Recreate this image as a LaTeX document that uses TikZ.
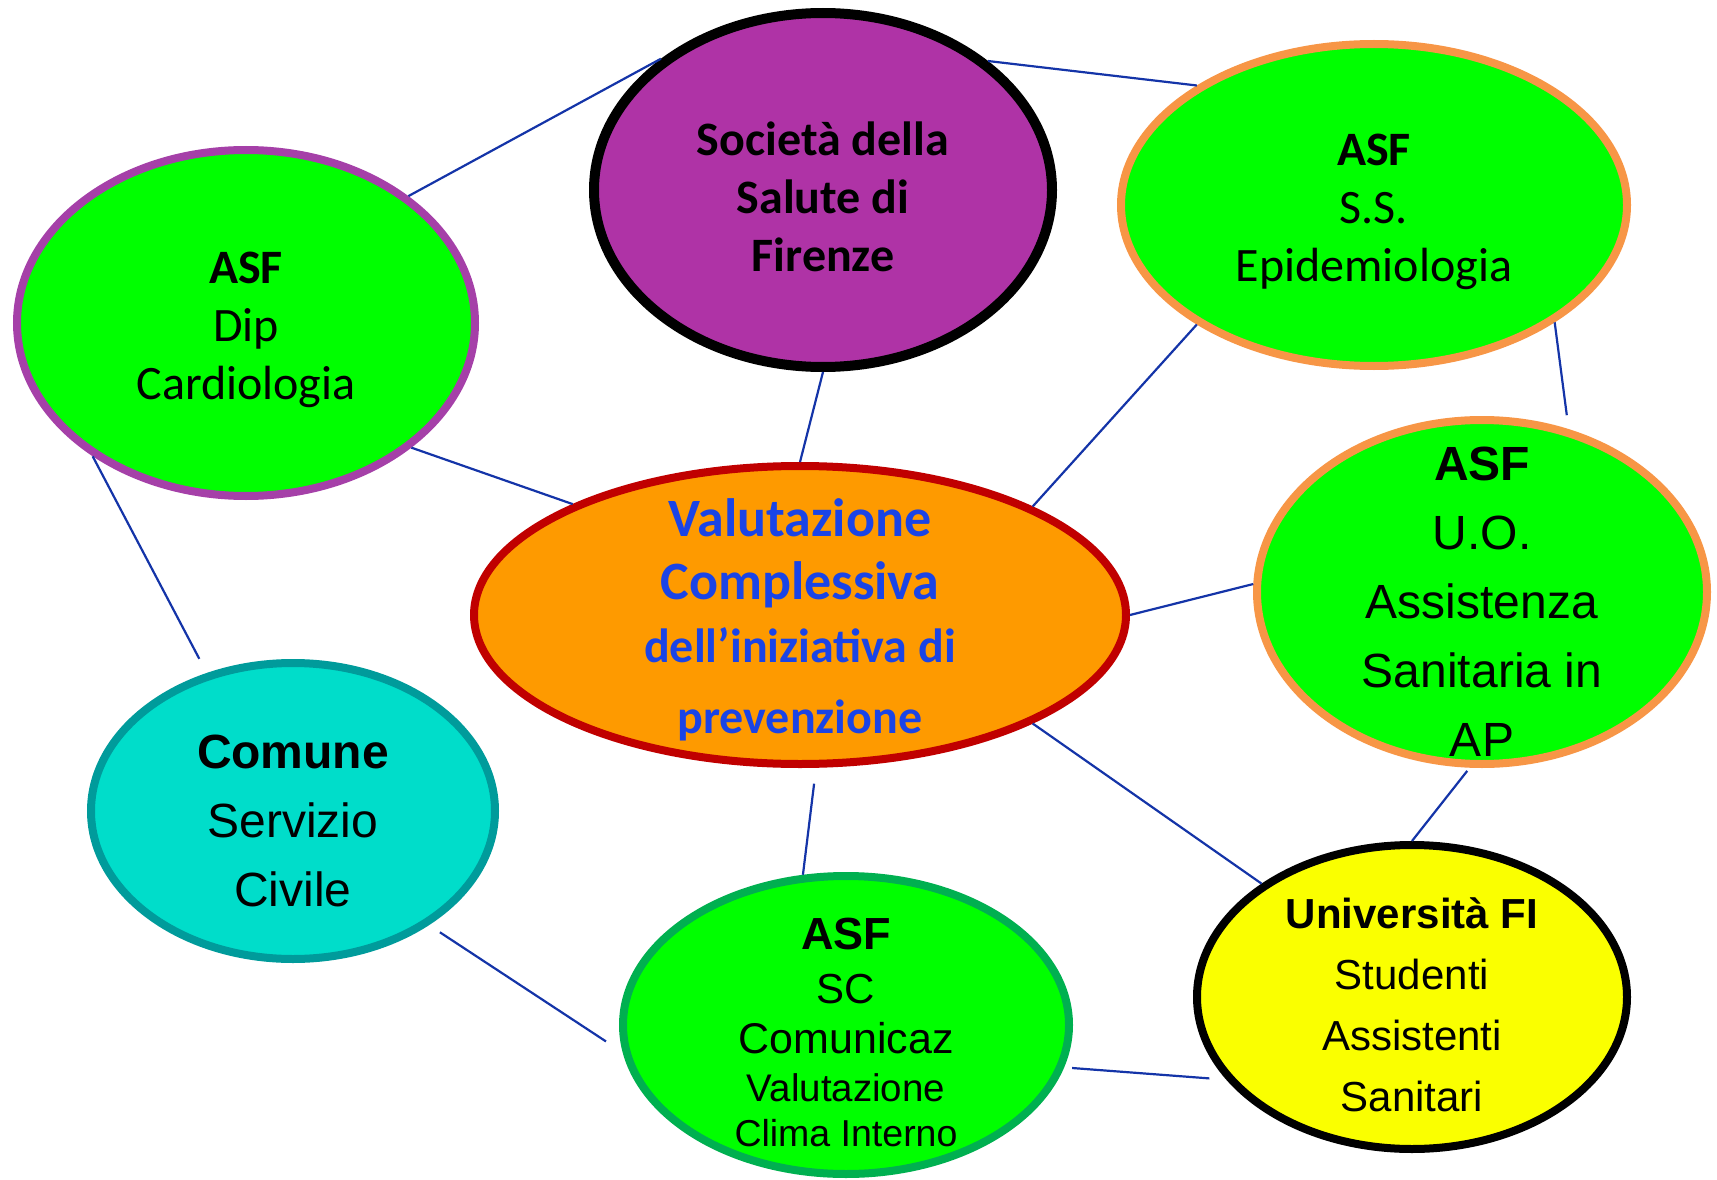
\documentclass[tikz,border=0pt]{standalone}
\usepackage{fontspec}
\setmainfont{Carlito}
\newfontfamily\arialf{Liberation Sans}
\usetikzlibrary{shapes.geometric}
\definecolor{lnblue}{HTML}{1434A8}
\definecolor{bgreen}{HTML}{00FF00}
\definecolor{cardpurple}{HTML}{A540A8}
\definecolor{socfill}{HTML}{AF33A6}
\definecolor{orangeb}{HTML}{F79646}
\definecolor{valfill}{HTML}{FE9A00}
\definecolor{valred}{HTML}{C00000}
\definecolor{txtblue}{HTML}{1A44E6}
\definecolor{comfill}{HTML}{00DDCA}
\definecolor{comteal}{HTML}{009B9B}
\definecolor{scgreen}{HTML}{00B050}
\definecolor{uniyel}{HTML}{FAFF00}
\tikzset{
  bub/.style={ellipse, draw, line width=8pt, inner sep=0pt},
  conn/.style={draw=lnblue, line width=2.2pt},
  lbl/.style={align=center, inner sep=0pt, text=black},
}
\begin{document}
\begin{tikzpicture}[x=1pt,y=-1pt]
\useasboundingbox (0,0) rectangle (1717,1180);
% bubbles
\node[bub, fill=bgreen, draw=cardpurple, minimum width=458, minimum height=346] (card) at (246,323) {};
\node[bub, fill=socfill, draw=black, line width=10pt, minimum width=458, minimum height=354] (soc) at (823,190) {};
\node[bub, fill=bgreen, draw=orangeb, minimum width=506, minimum height=322] (epi) at (1374,205) {};
\node[bub, fill=valfill, draw=valred, minimum width=652, minimum height=298] (val) at (800,615) {};
\node[bub, fill=bgreen, draw=orangeb, minimum width=450, minimum height=344] (uo) at (1482,592) {};
\node[bub, fill=comfill, draw=comteal, minimum width=404, minimum height=296] (com) at (293,811) {};
\node[bub, fill=bgreen, draw=scgreen, minimum width=446, minimum height=298] (sc) at (846,1025) {};
\node[bub, fill=uniyel, draw=black, minimum width=430, minimum height=304] (uni) at (1412,997) {};
% connectors
\draw[conn] (card.38) -- (soc.141);
\draw[conn] (soc.38) -- (epi.146);
\draw[conn] (soc.-90) -- (val.90);
\draw[conn] (card.-37) -- (val.154.5);
\draw[conn, shorten >=16pt] (card.-139) -- (com.122.7);
\draw[conn] (val.25.4) -- (epi.-146.3);
\draw[conn, shorten >=14pt] (epi.-33.3) -- (uo.62.2);
\draw[conn] (val.0) -- (uo.178.5);
\draw[conn] (val.-25.6) -- (uni.143.2);
\draw[conn, shorten <=4pt] (uo.-94.8) -- (uni.90);
\draw[conn, shorten <=16pt] (val.-84.6) -- (sc.106.8);
\draw[conn, shorten <=13pt, shorten >=20pt] (com.-40.3) -- (sc.-173.2);
\draw[conn, shorten <=8pt, shorten >=17pt] (sc.-11.2) -- (uni.-156.8);
% labels
\node[lbl, font=\fontsize{48}{58}\selectfont] (cardt) at (246,330) {\textbf{ASF}\\Dip\\Cardiologia};
\node[lbl, font=\fontsize{48}{58}\selectfont\bfseries] (soct) at (823,197) {Società della\\Salute di\\Firenze};
\node[lbl, font=\fontsize{48}{58}\selectfont] (epit) at (1374,212) {\textbf{ASF}\\S.S.\\Epidemiologia};
\node[lbl, text=txtblue, font=\fontsize{48}{63}\selectfont\bfseries] (valt) at (800,620)
  {{\fontsize{54}{63}\selectfont Valutazione}\\{\fontsize{54}{63}\selectfont Complessiva}\\dell’iniziativa di\\[8pt]prevenzione};
\node[lbl, font=\arialf\fontsize{48}{69}\selectfont] (uot) at (1482,602) {\textbf{ASF}\\U.O.\\Assistenza\\Sanitaria in\\AP};
\node[lbl, font=\arialf\fontsize{48}{69}\selectfont] (comt) at (293,821) {\textbf{Comune}\\Servizio\\Civile};
\node[lbl, font=\arialf\fontsize{42}{48}\selectfont] (sct) at (846,1032)
  {{\fontsize{45}{48}\selectfont\bfseries ASF}\\[6pt]SC\\[2pt]{\fontsize{43}{48}\selectfont Comunicaz}\\{\fontsize{38.5}{48}\selectfont Valutazione}\\[-3pt]{\fontsize{37.5}{48}\selectfont Clima Interno}};
\node[lbl, font=\arialf\fontsize{42}{61}\selectfont] (unit) at (1412,1005) {\textbf{Università FI}\\Studenti\\Assistenti\\Sanitari};
\end{tikzpicture}
\end{document}
